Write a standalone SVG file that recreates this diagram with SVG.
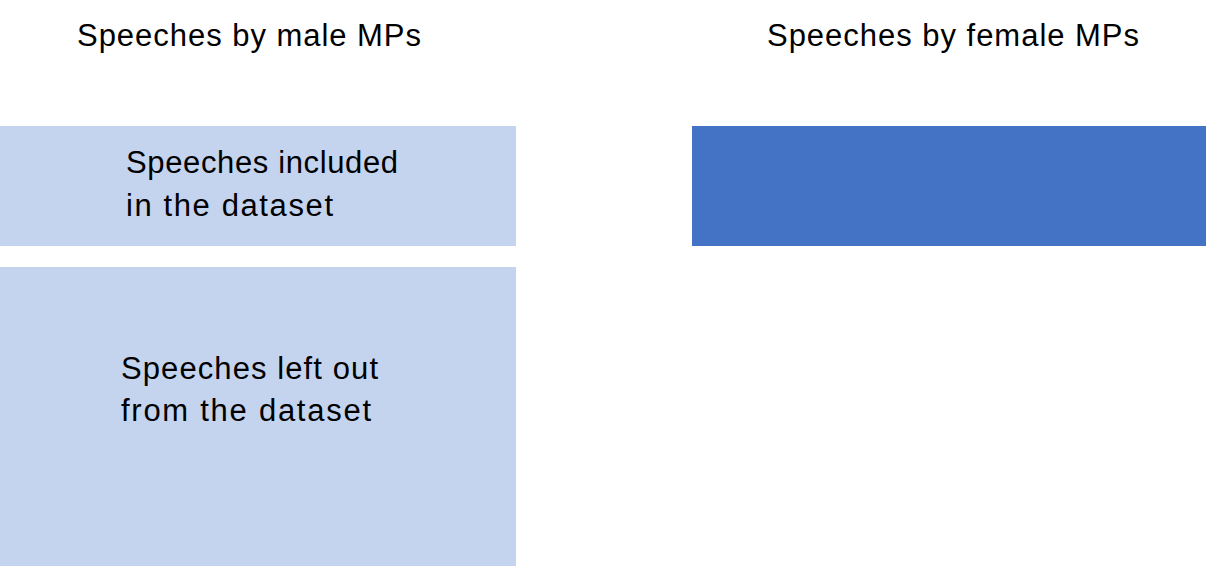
<svg xmlns="http://www.w3.org/2000/svg" width="1206" height="566" viewBox="0 0 1206 566">
<style>
text{font-family:"Liberation Sans",Arial,sans-serif;font-size:31px;fill:#000}
.light{fill:#C5D4EE}
.dark{fill:#4472C4}
</style>
<rect width="1206" height="566" fill="#fff"/>
<g id="title-male"><text x="77" y="46" textLength="344">Speeches by male MPs</text></g>
<g id="title-female"><text x="767" y="46" textLength="372">Speeches by female MPs</text></g>
<g id="included"><rect class="light" x="0" y="126" width="516" height="120"/>
<text x="126" y="173" textLength="272">Speeches included</text>
<text x="126" y="216" textLength="207">in the dataset</text></g>
<g id="leftout"><rect class="light" x="0" y="267" width="516" height="299"/>
<text x="121" y="379" textLength="257">Speeches left out</text>
<text x="121" y="421" textLength="250">from the dataset</text></g>
<g id="female"><rect class="dark" x="692" y="126" width="514" height="120"/></g>
<g id="connectors"/>
</svg>
